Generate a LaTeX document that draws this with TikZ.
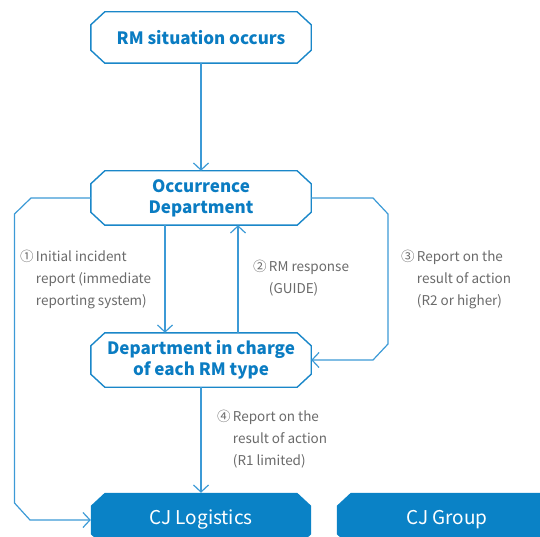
\documentclass[tikz,border=0pt]{standalone}
\usepackage{fontspec}
\setmainfont{Noto Sans CJK KR}
\usetikzlibrary{arrows.meta,calc}
\definecolor{boxblue}{HTML}{1A87C9}
\definecolor{txtblue}{HTML}{0A7CC2}
\definecolor{fillblue}{HTML}{0A82C6}
\definecolor{wire}{HTML}{3C9AD6}
\definecolor{lbl}{HTML}{6A6A6A}
\begin{document}
\begin{tikzpicture}[x=1pt,y=-1pt,
  anchorbox/.style={rectangle,minimum width=220pt,minimum height=54pt,inner sep=0pt,align=center},
  titletxt/.style={font=\fontsize{17}{21}\selectfont\bfseries,text=txtblue},
  filltxt/.style={font=\fontsize{19}{21}\selectfont,text=white},
  outline/.style={draw=boxblue,line width=1.4pt,fill=white,line join=miter},
  solid box/.style={fill=fillblue},
  conn/.style={draw=wire,line width=1.2pt},
  arr/.style={conn,-{Straight Barb[length=7pt,width=15pt,line width=1.2pt]}},
  lbltxt/.style={font=\fontsize{13.5}{22}\selectfont,text=lbl,align=left,anchor=north west,inner sep=0pt}
]
\useasboundingbox (0,0) rectangle (540,537);
\begin{scope}
\clip (0,0) rectangle (540,537);
% anchor nodes
\node[anchorbox,minimum height=51pt] (top) at (201,37.5) {};
\node[anchorbox] (occ) at (201,198) {};
\node[anchorbox] (dept) at (201,360) {};
\node[anchorbox] (cjl) at (201,520) {};
\node[anchorbox] (cjg) at (447,520) {};
% chamfered outlines
\foreach \n/\sty in {top/outline,occ/outline,dept/outline,cjl/solid box,cjg/solid box}{
  \path[\sty] ($(\n.north west)+(14,0)$) -- ($(\n.north east)+(-14,0)$) -- ($(\n.north east)+(0,13)$)
    -- ($(\n.south east)+(0,-13)$) -- ($(\n.south east)+(-14,0)$) -- ($(\n.south west)+(14,0)$)
    -- ($(\n.south west)+(0,-13)$) -- ($(\n.north west)+(0,13)$) -- cycle;
}
% texts
\node[titletxt] (ttop) at (top) {RM situation occurs};
\node[titletxt,align=center] (tocc) at (occ) {Occurrence\\Department};
\node[titletxt,align=center] (tdept) at (dept) {Department in charge\\of each RM type};
\node[filltxt] (tcjl) at (cjl) {CJ Logistics};
\node[filltxt] (tcjg) at (cjg) {CJ Group};
% bend coordinates
\coordinate (l1) at (31,198);
\coordinate (l2) at (14.5,214);
\coordinate (l3) at (14.5,503);
\coordinate (l4) at (30,520);
\coordinate (r1) at (373,198);
\coordinate (r2) at (388,214);
\coordinate (r3) at (388,344);
\coordinate (r4) at (373,360);
% connectors
\draw[arr] (top.south) -- (occ.north);
\draw[arr] (occ.west) -- (l1) -- (l2) -- (l3) -- (l4) -- (cjl.west);
\draw[arr] (occ.east) -- (r1) -- (r2) -- (r3) -- (r4) -- (dept.east);
\draw[arr] ([xshift=-36pt]occ.south) -- ([xshift=-36pt]dept.north);
\draw[arr] ([xshift=37pt]dept.north) -- ([xshift=37pt]occ.south);
\draw[arr] (dept.south) -- (cjl.north);
% labels
\node[lbltxt] (lab1) at (20,249.5) {①\,Initial incident\\\hphantom{①\,}report (immediate\\\hphantom{①\,}reporting system)};
\node[lbltxt] (lab2) at (253,260) {②\,RM response\\\hphantom{②\,}(GUIDE)};
\node[lbltxt] (lab3) at (401,249.5) {③\,Report on the\\\hphantom{③\,}result of action\\\hphantom{③\,}(R2 or higher)};
\node[lbltxt] (lab4) at (217,410) {④\,Report on the\\\hphantom{④\,}result of action\\\hphantom{④\,}(R1 limited)};
\end{scope}
\end{tikzpicture}
\end{document}
